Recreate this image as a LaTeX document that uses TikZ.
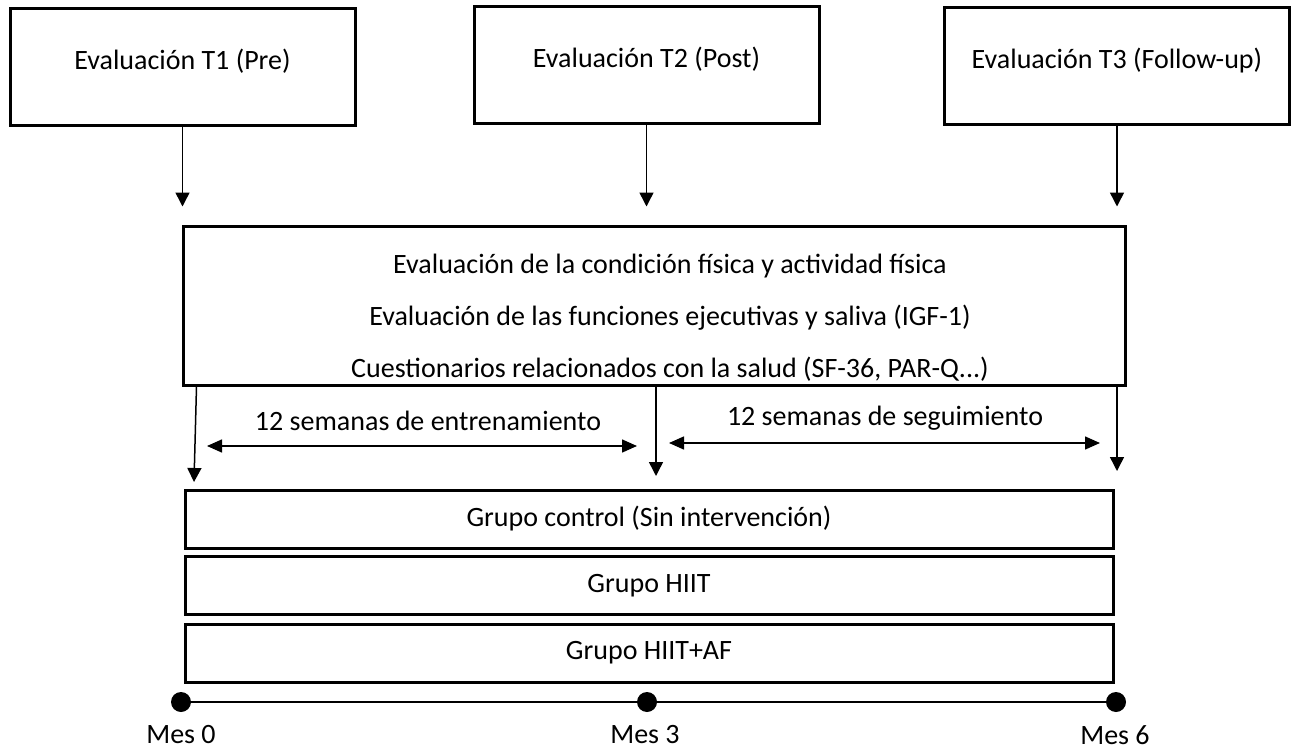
\documentclass[tikz,border=0pt]{standalone}
\usepackage{fontspec}
\setmainfont{Carlito}
\usetikzlibrary{arrows.meta}

\tikzset{
  caja/.style={draw, line width=3pt, inner sep=0pt},
  evalbox/.style={caja, minimum width=345pt, minimum height=117pt, text height=21pt, text depth=16pt},
  grupobox/.style={caja, minimum width=928pt, minimum height=58pt},
  flecha/.style={-{Triangle[width=14pt,length=14pt]}, line width=1.5pt},
  doble/.style={{Triangle[width=13pt,length=15pt]}-{Triangle[width=13pt,length=15pt]}, line width=1.5pt},
  punto/.style={circle, fill, inner sep=0pt, minimum size=20pt},
}

\begin{document}
\begin{tikzpicture}[x=1pt,y=-1pt,font=\fontsize{28}{34}\selectfont]
\useasboundingbox (0,0) rectangle (1291,749);

% evaluaciones
\node[evalbox] (t1) at (182.5,67.5) {Evaluación T1 (Pre)};
\node[evalbox] (t2) at (646.5,65.5) {Evaluación T2 (Post)};
\node[evalbox] (t3) at (1117,66) {Evaluación T3 (Follow-up)};

% medidas
\node[caja, minimum width=942pt, minimum height=159pt] (medidas) at (654,305.5) {};
\node[align=center, font=\fontsize{28}{52}\selectfont] (textos) at (670,318)
  {Evaluación de la condición física y actividad física\\
   Evaluación de las funciones ejecutivas y saliva (IGF-1)\\
   Cuestionarios relacionados con la salud (SF-36, PAR-Q...)};

\draw[flecha, shorten >=18pt] (t1.south) -- (t1.south |- medidas.north);
\draw[flecha, shorten >=18pt] (t2.south) -- (t2.south |- medidas.north);
\draw[flecha, shorten >=18pt] (t3.south) -- (t3.south |- medidas.north);

% grupos
\node[grupobox] (control) at (649,519) {Grupo control (Sin intervención)};
\node[grupobox] (hiit) at (649,585.5) {Grupo HIIT};
\node[grupobox] (hiitaf) at (649,653) {Grupo HIIT+AF};

\coordinate (p0) at (194,482);
\coordinate (p3) at (656,476);
\coordinate (p6) at (1117,471);
\draw[flecha] ([xshift=15pt]medidas.south west) -- (p0);
\draw[flecha] (medidas.south -| p3) -- (p3);
\draw[flecha] (medidas.south -| p6) -- (p6);

% periodos
\coordinate (e0) at (207,446);
\coordinate (e1) at (637,446);
\coordinate (s0) at (669,443);
\coordinate (s1) at (1100,443);
\draw[doble] (e0) -- (e1);
\draw[doble] (s0) -- (s1);
\node (entreno) at (428,421) {12 semanas de entrenamiento};
\node (seguim) at (885,418) {12 semanas de seguimiento};

% linea de tiempo
\node[punto] (m0) at (181,702) {};
\node[punto] (m3) at (647,702) {};
\node[punto] (m6) at (1116,702) {};
\draw[line width=2.5pt] (m0) -- (m3) -- (m6);
\node (mes0) at (181,735) {Mes 0};
\node (mes3) at (645,735) {Mes 3};
\node (mes6) at (1115,735) {Mes 6};

\end{tikzpicture}
\end{document}
